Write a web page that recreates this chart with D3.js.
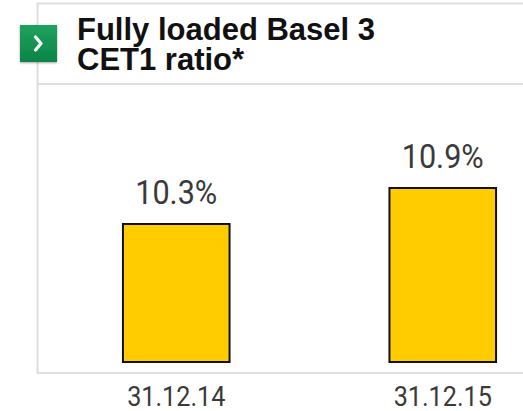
<!DOCTYPE html>
<html>
<head>
<meta charset="utf-8">
<script src="https://cdn.jsdelivr.net/npm/d3@7"></script>
<style>
  body { margin: 0; background: #fff; }
  #chart { width: 523px; height: 411px; }
</style>
</head>
<body>
<div id="chart"></div>
<script>
// Chart data
const categories = ["31.12.14", "31.12.15"];
const values = [10.3, 10.9];
const titleLines = ["Fully loaded Basel 3", "CET1 ratio*"];

const width = 523, height = 411;

const svg = d3.select("#chart")
    .append("svg")
    .attr("width", width)
    .attr("height", height);

// Panel frame
svg.append("path")
    .attr("d", "M560,3.5 H37.5 V373 H560")
    .attr("fill", "none")
    .attr("stroke", "#dedede")
    .attr("stroke-width", 2);

svg.append("line")
    .attr("x1", 37).attr("x2", 560)
    .attr("y1", 84).attr("y2", 84)
    .attr("stroke", "#dedede")
    .attr("stroke-width", 2);

// Green icon with chevron
const defs = svg.append("defs");
const grad = defs.append("linearGradient")
    .attr("id", "g").attr("x1", 0).attr("y1", 0).attr("x2", 0).attr("y2", 1);
grad.append("stop").attr("offset", "0%").attr("stop-color", "#1fa25e");
grad.append("stop").attr("offset", "100%").attr("stop-color", "#0b8447");

defs.append("filter").attr("id", "sh")
    .append("feDropShadow")
    .attr("dx", 0).attr("dy", 1).attr("stdDeviation", 1)
    .attr("flood-color", "#000").attr("flood-opacity", 0.35);

svg.append("rect")
    .attr("x", 20).attr("y", 25)
    .attr("width", 37).attr("height", 37)
    .attr("fill", "url(#g)")
    .attr("filter", "url(#sh)");

svg.append("path")
    .attr("d", "M35.5,37 L41,43.5 L35.5,50")
    .attr("fill", "none")
    .attr("stroke", "#fff")
    .attr("stroke-width", 3.2)
    .attr("stroke-linecap", "round")
    .attr("stroke-linejoin", "round");

// Title
svg.append("text")
    .attr("font-family", "Liberation Sans, Arial, sans-serif")
    .attr("font-weight", "bold")
    .attr("font-size", 31)
    .attr("fill", "#111")
    .selectAll("tspan")
    .data(titleLines)
    .join("tspan")
    .attr("x", 77)
    .attr("y", (d, i) => 40 + i * 30)
    .text(d => d);

// Scales
const x = d3.scaleBand()
    .domain(categories)
    .range([43, 576])
    .paddingInner(0.6)
    .paddingOuter(0.3);

const y = d3.scaleLinear()
    .domain([8, 11])
    .range([362, 182]);

const data = categories.map((c, i) => ({ cat: c, val: values[i] }));

// Bars
svg.selectAll(".bar")
    .data(data)
    .join("rect")
    .attr("class", "bar")
    .attr("x", d => x(d.cat))
    .attr("y", d => y(d.val))
    .attr("width", x.bandwidth())
    .attr("height", d => y.range()[0] - y(d.val))
    .attr("fill", "#ffcc00")
    .attr("stroke", "#111")
    .attr("stroke-width", 2);

// Value labels (condensed look)
const condensed = (sel, cx, cy) => sel.attr("transform", `translate(${cx},${cy}) scale(0.9,1)`);

svg.selectAll(".val")
    .data(data)
    .join("text")
    .attr("class", "val")
    .each(function(d) {
        condensed(d3.select(this), x(d.cat) + x.bandwidth() / 2, y(d.val) - 20);
    })
    .attr("text-anchor", "middle")
    .attr("font-family", "Roboto, sans-serif")
    .attr("font-size", 34)
    .attr("fill", "#3a3a3a")
    .text(d => d.val.toFixed(1) + "%");

// Category labels
svg.selectAll(".cat")
    .data(data)
    .join("text")
    .attr("class", "cat")
    .each(function(d) {
        condensed(d3.select(this), x(d.cat) + x.bandwidth() / 2, 406);
    })
    .attr("text-anchor", "middle")
    .attr("font-family", "Roboto, sans-serif")
    .attr("font-size", 28)
    .attr("fill", "#3a3a3a")
    .text(d => d.cat);
</script>
</body>
</html>
